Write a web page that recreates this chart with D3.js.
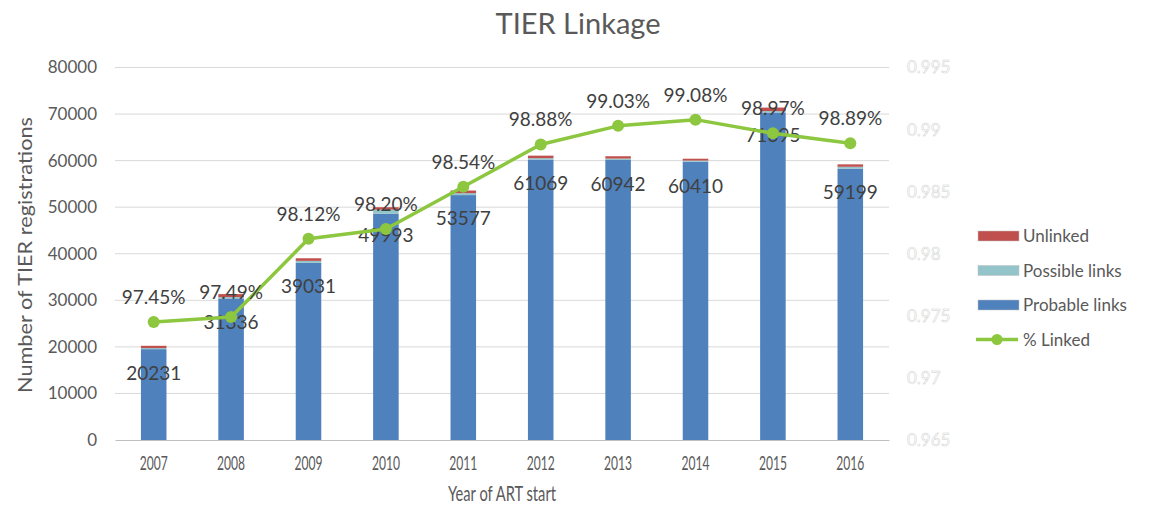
<!DOCTYPE html>
<html>
<head>
<meta charset="utf-8">
<script src="https://cdn.jsdelivr.net/npm/d3@7"></script>
<style>
  html, body { margin: 0; padding: 0; background: #fff; }
  svg { display: block; font-family: Lato, "Open Sans", sans-serif; }
</style>
</head>
<body>
<svg id="chart" width="1151" height="506"></svg>
<script>
// ---- data ----
const years = ["2007","2008","2009","2010","2011","2012","2013","2014","2015","2016"];
const totals = [20231, 31336, 39031, 49993, 53577, 61069, 60942, 60410, 71395, 59199];
const unlinked = [480, 640, 560, 520, 560, 540, 500, 400, 760, 520];
const possible = [240, 300, 420, 900, 420, 300, 300, 250, 300, 400];
const pctLinked = [0.9745, 0.9749, 0.9812, 0.9820, 0.9854, 0.9888, 0.9903, 0.9908, 0.9897, 0.9889];
const leftTicks = [0, 10000, 20000, 30000, 40000, 50000, 60000, 70000, 80000];
const rightTicks = [0.965, 0.97, 0.975, 0.98, 0.985, 0.99, 0.995];
const seriesNames = ["Probable links", "Possible links", "Unlinked"];
const colors = {"Probable links": "#4F81BD", "Possible links": "#93C4CA", "Unlinked": "#C0504D", line: "#8DC63F"};

const probable = totals.map((t, i) => t - unlinked[i] - possible[i]);
const rows = years.map((yr, i) => ({year: yr, "Probable links": probable[i], "Possible links": possible[i], "Unlinked": unlinked[i]}));

const svg = d3.select("#chart");
const plotL = 115, plotR = 889, plotT = 67.5, plotB = 440;

const x = d3.scaleBand().domain(years).range([plotL, plotR]).paddingInner(0.67).paddingOuter(0.335);
const y = d3.scaleLinear().domain([0, 80000]).range([plotB, plotT]);
const y2 = d3.scaleLinear().domain([0.965, 0.995]).range([plotB, plotT]);

// title
svg.append("text").attr("x", 578).attr("y", 34).attr("text-anchor", "middle")
  .attr("font-size", 29).attr("fill", "#595959").text("TIER Linkage");

// gridlines
svg.append("g").selectAll("line").data(leftTicks.filter(d => d > 0)).join("line")
  .attr("x1", plotL).attr("x2", plotR).attr("y1", d => y(d)).attr("y2", d => y(d))
  .attr("stroke", "#D9D9D9").attr("stroke-width", 1);

// left axis
const ga = svg.append("g").attr("transform", `translate(${plotL},0)`)
  .call(d3.axisLeft(y).tickValues(leftTicks).tickSize(0).tickPadding(18).tickFormat(d3.format("d")));
ga.select(".domain").remove();
ga.selectAll("text").attr("font-size", 17).attr("fill", "#595959").attr("font-family", "Lato, sans-serif");

// right axis (white text outlined)
const gr = svg.append("g").attr("transform", `translate(${plotR},0)`)
  .call(d3.axisRight(y2).tickValues(rightTicks).tickSize(0).tickPadding(18).tickFormat(d => String(+d.toFixed(3))));
gr.select(".domain").remove();
gr.selectAll("text").attr("font-size", 17).attr("fill", "#ffffff").attr("stroke", "#cfcfcf")
  .attr("stroke-width", 0.5).attr("font-family", "Lato, sans-serif");

// stacked bars
const stack = d3.stack().keys(seriesNames)(rows);
svg.append("g").selectAll("g").data(stack).join("g")
  .attr("fill", d => colors[d.key])
  .selectAll("rect").data(d => d).join("rect")
  .attr("x", d => x(d.data.year)).attr("width", x.bandwidth())
  .attr("y", d => y(d[1])).attr("height", d => y(d[0]) - y(d[1]));

// bottom axis
const gb = svg.append("g").attr("transform", `translate(0,${plotB})`)
  .call(d3.axisBottom(x).tickSize(0).tickPadding(17));
gb.select(".domain").attr("stroke", "#BFBFBF").attr("stroke-width", 1.2);
gb.selectAll("text").attr("font-size", 19).attr("fill", "#595959").attr("font-family", "Lato, sans-serif")
  .attr("textLength", 28).attr("lengthAdjust", "spacingAndGlyphs");

// axis titles
svg.append("text").attr("x", 502).attr("y", 501).attr("text-anchor", "middle")
  .attr("font-size", 22).attr("fill", "#595959")
  .attr("textLength", 108).attr("lengthAdjust", "spacingAndGlyphs").text("Year of ART start");
svg.append("text").attr("transform", "translate(32,255) rotate(-90)").attr("text-anchor", "middle")
  .attr("font-size", 19).attr("fill", "#595959")
  .attr("textLength", 276).attr("lengthAdjust", "spacingAndGlyphs").text("Number of TIER registrations");

// count labels
svg.append("g").selectAll("text").data(years).join("text")
  .attr("x", d => x(d) + x.bandwidth() / 2)
  .attr("y", (d, i) => y(totals[i]) + 34.5)
  .attr("text-anchor", "middle").attr("font-size", 19).attr("fill", "#404040")
  .text((d, i) => totals[i]);

// line
const line = d3.line().x((d, i) => x(years[i]) + x.bandwidth() / 2).y(d => y2(d));
svg.append("path").datum(pctLinked).attr("d", line).attr("fill", "none")
  .attr("stroke", colors.line).attr("stroke-width", 3.5).attr("stroke-linejoin", "round");
svg.append("g").selectAll("circle").data(pctLinked).join("circle")
  .attr("cx", (d, i) => x(years[i]) + x.bandwidth() / 2).attr("cy", d => y2(d))
  .attr("r", 6).attr("fill", colors.line);

// pct labels
svg.append("g").selectAll("text").data(pctLinked).join("text")
  .attr("x", (d, i) => x(years[i]) + x.bandwidth() / 2)
  .attr("y", d => y2(d) - 18)
  .attr("text-anchor", "middle").attr("font-size", 19).attr("fill", "#404040")
  .text(d => (d * 100).toFixed(2) + "%");

// legend
const legendItems = ["Unlinked", "Possible links", "Probable links", "% Linked"];
const lg = svg.append("g");
legendItems.forEach((name, i) => {
  const cy = 236 + i * 34.5;
  if (name === "% Linked") {
    lg.append("line").attr("x1", 976).attr("x2", 1018).attr("y1", cy).attr("y2", cy)
      .attr("stroke", colors.line).attr("stroke-width", 3.5);
    lg.append("circle").attr("cx", 997).attr("cy", cy).attr("r", 5.5).attr("fill", colors.line);
  } else {
    lg.append("rect").attr("x", 978).attr("y", cy - 5).attr("width", 41).attr("height", 10)
      .attr("fill", colors[name]).attr("stroke", "#c0c0c0").attr("stroke-width", 0.5);
  }
  lg.append("text").attr("x", 1023).attr("y", cy + 6).attr("font-size", 17).attr("fill", "#595959").text(name);
});
</script>
</body>
</html>
